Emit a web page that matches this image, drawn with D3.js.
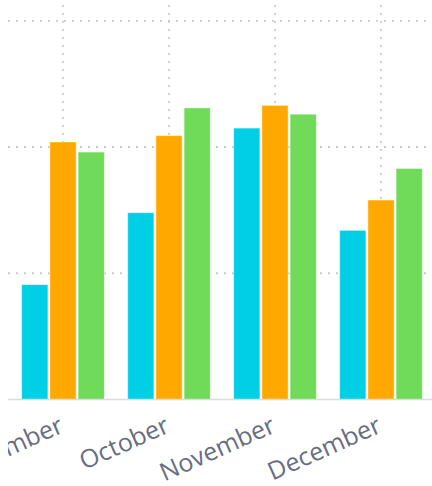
<!DOCTYPE html>
<html>
<head>
<meta charset="utf-8">
<script src="https://cdn.jsdelivr.net/npm/d3@7"></script>
<style>
  html, body { margin: 0; padding: 0; background: #fff; overflow: hidden; }
  svg { display: block; }
</style>
</head>
<body>
<script>
// data
const months = ["September", "October", "November", "December"];
const seriesNames = ["A", "B", "C"];
const seriesA = [9.1, 14.8, 21.5, 13.4];
const seriesB = [20.4, 20.9, 23.3, 15.8];
const seriesC = [19.6, 23.1, 22.6, 18.3];
const yTicks = [0, 10, 20, 30];
const colors = ["#00cfe5", "#ffa800", "#6fdb58"];

const W = 432, H = 486;
const plot = { left: 8, right: 432, top: 5, bottom: 399.5 };

const svg = d3.select("body")
  .append("svg")
    .attr("width", W)
    .attr("height", H);

// the view is cut at the plot's left edge
svg.append("defs").append("clipPath")
    .attr("id", "view")
  .append("rect")
    .attr("x", plot.left)
    .attr("y", 0)
    .attr("width", W - plot.left)
    .attr("height", H);

// Scales
const x0 = d3.scaleBand()
  .domain(months)
  .range([plot.left + 2, plot.right + 2])
  .paddingInner(0.22)
  .paddingOuter(0.11);

const x1 = d3.scaleBand()
  .domain(seriesNames)
  .range([0, x0.bandwidth()])
  .paddingInner(0.07);

const y = d3.scaleLinear()
  .domain([0, 31.25])
  .range([plot.bottom, plot.top]);

const color = d3.scaleOrdinal().domain(seriesNames).range(colors);

const rows = months.map((m, i) => ({
  month: m,
  values: [seriesA[i], seriesB[i], seriesC[i]].map((v, j) => ({ key: seriesNames[j], value: v }))
}));

// Grid: dotted, horizontal at y ticks, vertical at category centres
const grid = svg.append("g").attr("class", "grid")
  .attr("stroke", "#c6c6c6")
  .attr("stroke-width", 1.8)
  .attr("stroke-dasharray", "1.8,6.2");

grid.selectAll("line.h")
  .data(yTicks.filter(d => d > 0))
  .join("line")
    .attr("class", "h")
    .attr("x1", plot.left)
    .attr("x2", plot.right)
    .attr("y1", d => y(d))
    .attr("y2", d => y(d));

grid.selectAll("line.v")
  .data(months)
  .join("line")
    .attr("class", "v")
    .attr("x1", d => x0(d) + x0.bandwidth() / 2)
    .attr("x2", d => x0(d) + x0.bandwidth() / 2)
    .attr("y1", plot.top)
    .attr("y2", plot.bottom);

// Bars
svg.append("g")
  .selectAll("g")
  .data(rows)
  .join("g")
    .attr("transform", d => `translate(${x0(d.month)},0)`)
  .selectAll("rect")
  .data(d => d.values)
  .join("rect")
    .attr("x", d => x1(d.key))
    .attr("y", d => y(d.value))
    .attr("width", x1.bandwidth())
    .attr("height", d => y(0) - y(d.value))
    .attr("fill", d => color(d.key))
    .attr("stroke", "#fff")
    .attr("stroke-opacity", 0.45)
    .attr("stroke-width", 1);

// x axis
const xAxis = svg.append("g")
  .attr("clip-path", "url(#view)")
  .append("g")
  .attr("transform", `translate(0,${plot.bottom})`)
  .call(d3.axisBottom(x0).tickSize(0).tickPadding(0));

xAxis.select(".domain")
  .attr("d", `M${plot.left},0H${plot.right}`)
  .attr("stroke", "#dcdce0")
  .attr("stroke-width", 1.5);

xAxis.selectAll("text")
  .attr("font-family", "'Open Sans', sans-serif")
  .attr("font-size", 25)
  .attr("fill", "#686d82")
  .attr("text-anchor", "end")
  .attr("dy", null)
  .attr("transform", "translate(2,32) rotate(-24)");
</script>
</body>
</html>
